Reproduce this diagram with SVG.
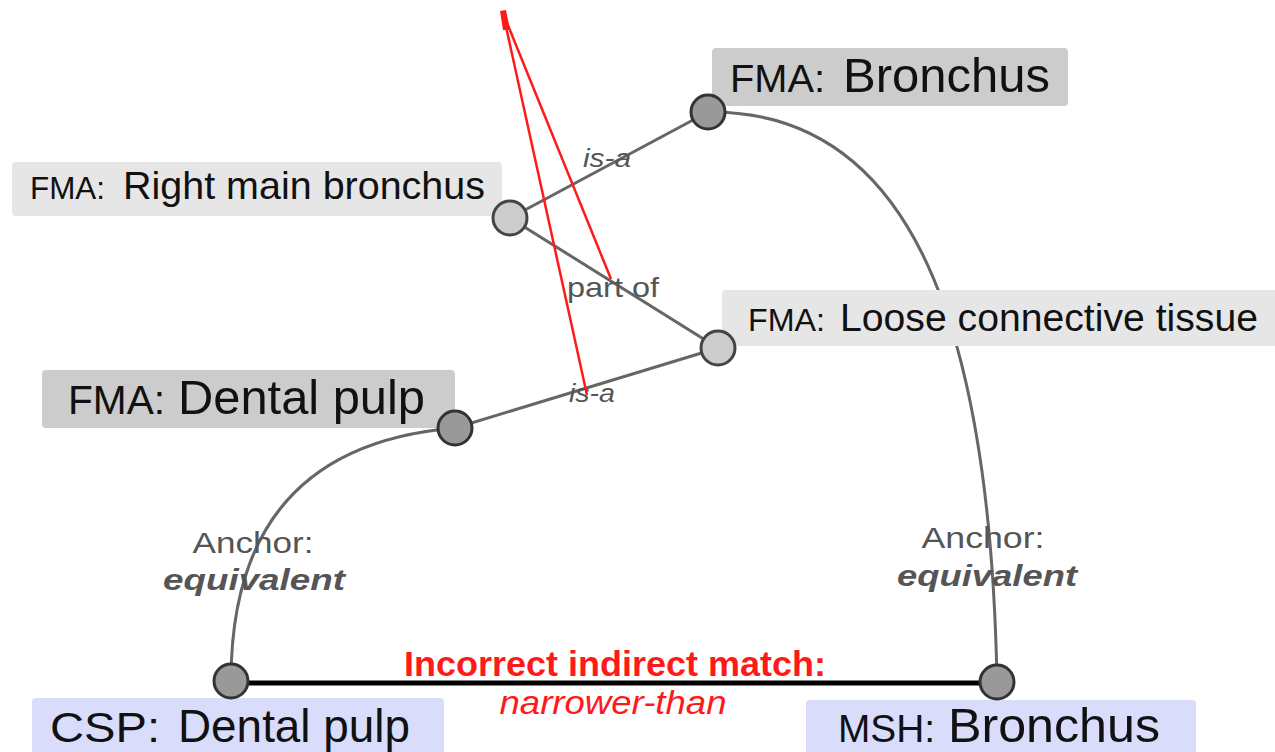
<svg xmlns="http://www.w3.org/2000/svg" width="1275" height="752" viewBox="0 0 1275 752">
  <style>
    .box-dark { fill: #cccccc; }
    .box-light { fill: #e6e6e6; }
    .box-blue { fill: #d9dcfa; }
    .pin-dark { fill: #999999; stroke: #333333; stroke-width: 3; }
    .pin-light { fill: #cccccc; stroke: #444444; stroke-width: 3; }
    .name { font-family: "Liberation Sans", Arial, sans-serif; fill: #111111; }
    .edge { fill: none; stroke: #666666; stroke-width: 3; }
    .label { font-family: "Liberation Sans", Arial, sans-serif; fill: #555555; text-anchor: middle; }
    .red { fill: none; stroke: #ff1a1a; stroke-width: 2.5; }
    .redtext { font-family: "Liberation Sans", Arial, sans-serif; fill: #ff1a1a; text-anchor: middle; }
  </style>

  <!-- connectors -->
  <g id="connectors">
    <line class="edge" x1="708" y1="112" x2="510" y2="218"/>
    <line class="edge" x1="510" y1="218" x2="718" y2="348"/>
    <line class="edge" x1="718" y1="348" x2="455" y2="428"/>
    <path class="edge" d="M455 428 C 310 440, 231 520, 231 681"/>
    <path class="edge" d="M708 112 C 900 110, 990 300, 997 682"/>
    <line x1="231" y1="683" x2="997" y2="683" stroke="#000000" stroke-width="5"/>
    <text class="label" x="607" y="167" font-size="26" font-style="italic" textLength="48" lengthAdjust="spacingAndGlyphs">is-a</text>
    <text class="label" x="613" y="297" font-size="28" textLength="92" lengthAdjust="spacingAndGlyphs">part of</text>
    <text class="label" x="592" y="402" font-size="26" font-style="italic" textLength="46" lengthAdjust="spacingAndGlyphs">is-a</text>
    <text class="label" x="253" y="553" font-size="30" textLength="121" lengthAdjust="spacingAndGlyphs">Anchor:</text>
    <text class="label" x="254" y="590" font-size="30" font-weight="bold" font-style="italic" textLength="182" lengthAdjust="spacingAndGlyphs">equivalent</text>
    <text class="label" x="983" y="548" font-size="30" textLength="123" lengthAdjust="spacingAndGlyphs">Anchor:</text>
    <text class="label" x="987" y="586" font-size="30" font-weight="bold" font-style="italic" textLength="180" lengthAdjust="spacingAndGlyphs">equivalent</text>
    <!-- highlighted path -->
    <line class="red" x1="503" y1="13" x2="611" y2="279"/>
    <line class="red" x1="503" y1="13" x2="587" y2="395"/>
    <polygon points="500,11 506,10 510,30 503,30" fill="#ff1a1a"/>
    <text class="redtext" x="615" y="676" font-size="35" font-weight="bold" textLength="422" lengthAdjust="spacingAndGlyphs">Incorrect indirect match:</text>
    <text class="redtext" x="613" y="714" font-size="34" font-style="italic" textLength="227" lengthAdjust="spacingAndGlyphs">narrower-than</text>
  </g>

  <g id="fma-bronchus">
    <rect class="box-dark" x="712" y="48" width="356" height="58" rx="4"/>
    <text class="name" x="730" y="92" font-size="39" textLength="95" lengthAdjust="spacingAndGlyphs">FMA:</text>
    <text class="name" x="843" y="92" font-size="48" textLength="207" lengthAdjust="spacingAndGlyphs">Bronchus</text>
    <circle class="pin-dark" cx="708" cy="112" r="17"/>
  </g>

  <g id="fma-right-main-bronchus">
    <rect class="box-light" x="12" y="162" width="490" height="54" rx="4"/>
    <text class="name" x="30" y="199" font-size="31" textLength="75" lengthAdjust="spacingAndGlyphs">FMA:</text>
    <text class="name" x="123" y="199" font-size="39" textLength="362" lengthAdjust="spacingAndGlyphs">Right main bronchus</text>
    <circle class="pin-light" cx="510" cy="218" r="17"/>
  </g>

  <g id="fma-loose-connective-tissue">
    <rect class="box-light" x="722" y="290" width="560" height="56" rx="4"/>
    <text class="name" x="748" y="331" font-size="32" textLength="77" lengthAdjust="spacingAndGlyphs">FMA:</text>
    <text class="name" x="840" y="331" font-size="39" textLength="418" lengthAdjust="spacingAndGlyphs">Loose connective tissue</text>
    <circle class="pin-light" cx="718" cy="348" r="17"/>
  </g>

  <g id="fma-dental-pulp">
    <rect class="box-dark" x="42" y="370" width="413" height="58" rx="4"/>
    <text class="name" x="68" y="414" font-size="40" textLength="97" lengthAdjust="spacingAndGlyphs">FMA:</text>
    <text class="name" x="178" y="414" font-size="48" textLength="247" lengthAdjust="spacingAndGlyphs">Dental pulp</text>
    <circle class="pin-dark" cx="455" cy="428" r="17"/>
  </g>

  <g id="csp-dental-pulp">
    <rect class="box-blue" x="32" y="698" width="412" height="62" rx="4"/>
    <text class="name" x="50" y="742" font-size="42" textLength="110" lengthAdjust="spacingAndGlyphs">CSP:</text>
    <text class="name" x="178" y="742" font-size="46" textLength="232" lengthAdjust="spacingAndGlyphs">Dental pulp</text>
    <circle class="pin-dark" cx="231" cy="681" r="17"/>
  </g>

  <g id="msh-bronchus">
    <rect class="box-blue" x="806" y="700" width="390" height="60" rx="4"/>
    <text class="name" x="838" y="742" font-size="39" textLength="97" lengthAdjust="spacingAndGlyphs">MSH:</text>
    <text class="name" x="948" y="742" font-size="49" textLength="212" lengthAdjust="spacingAndGlyphs">Bronchus</text>
    <circle class="pin-dark" cx="997" cy="682" r="17"/>
  </g>
</svg>
